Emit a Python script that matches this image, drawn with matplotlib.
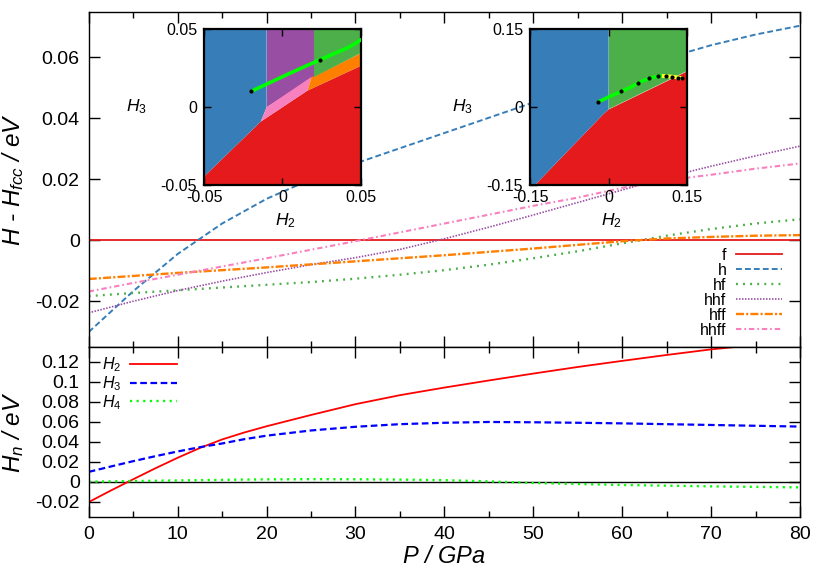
import matplotlib
matplotlib.use("Agg")
import matplotlib.pyplot as plt
import numpy as np
from matplotlib.ticker import MultipleLocator, FuncFormatter

plt.rcParams['font.family'] = ['Liberation Sans', 'DejaVu Sans']
plt.rcParams['mathtext.fontset'] = 'custom'
plt.rcParams['mathtext.it'] = 'Liberation Sans:italic'
plt.rcParams['mathtext.rm'] = 'Liberation Sans'

# ── top panel: H - H_fcc (eV) vs pressure ────────────────────────────────────
P_TOP = [0, 5, 10, 15, 20, 25, 30, 35, 40, 45, 50, 55, 60, 65, 70, 75, 80]
H_F    = [0.0] * 17
H_H    = [-0.0301, -0.0167, -0.0045, 0.0055, 0.0136, 0.0200, 0.0252, 0.0302, 0.0352,
          0.0402, 0.0452, 0.0500, 0.0550, 0.0598, 0.0640, 0.0675, 0.0704]
H_HF   = [-0.0183, -0.0173, -0.0164, -0.0155, -0.0146, -0.0137, -0.0126, -0.0113, -0.0098,
          -0.0080, -0.0059, -0.0036, -0.0010, 0.0015, 0.0037, 0.0055, 0.0069]
H_HHF  = [-0.0238, -0.0200, -0.0165, -0.0134, -0.0106, -0.0080, -0.0057, -0.0030, 0.0005,
          0.0043, 0.0083, 0.0124, 0.0165, 0.0207, 0.0243, 0.0277, 0.0309]
H_HFF  = [-0.0127, -0.0117, -0.0107, -0.0098, -0.0089, -0.0079, -0.0069, -0.0059, -0.0049,
          -0.0038, -0.0027, -0.0015, -0.0003, 0.0006, 0.0011, 0.0015, 0.0017]
H_HHFF = [-0.0168, -0.0140, -0.0113, -0.0086, -0.0059, -0.0031, -0.0003, 0.0026, 0.0055,
          0.0084, 0.0113, 0.0140, 0.0172, 0.0197, 0.0215, 0.0235, 0.0252]

# ── bottom panel: H_n (eV) vs pressure ───────────────────────────────────────
P_BOT = [0, 2.5, 5, 7.5, 10, 12.5, 15, 17.5, 20, 25, 30, 35, 40, 45, 50, 55, 60, 65, 70, 75, 80]
H2 = [-0.0201, -0.0085, 0.0027, 0.0137, 0.0242, 0.0340, 0.0425, 0.0495, 0.0557, 0.0670, 0.0778,
      0.0868, 0.0944, 0.1015, 0.1084, 0.1150, 0.1211, 0.1270, 0.1326, 0.1370, 0.1405]
H3 = [0.0101, 0.0155, 0.0208, 0.0258, 0.0305, 0.0348, 0.0385, 0.0428, 0.0463, 0.0515, 0.0552,
      0.0578, 0.0592, 0.0600, 0.0597, 0.0592, 0.0586, 0.0578, 0.0570, 0.0562, 0.0554]
H4 = [0.0003, 0.0006, 0.0009, 0.0012, 0.0015, 0.0018, 0.0021, 0.0024, 0.0026, 0.0028, 0.0027,
      0.0024, 0.0018, 0.0006, -0.0010, -0.0020, -0.0030, -0.0037, -0.0044, -0.0049, -0.0054]

# ── inset phase maps (H2, H3 vertices) ───────────────────────────────────────
IN1_RED    = ([-0.05, -0.05, -0.0138, 0.016, 0.05, 0.05], [-0.05, -0.0446, -0.0093, 0.0106, 0.0265, -0.05])
IN1_BLUE   = ([-0.05, -0.05, -0.01, -0.01, -0.0138], [-0.0446, 0.05, 0.05, 0.0, -0.0093])
IN1_PURPLE = ([-0.01, -0.01, 0.02, 0.02], [0.0, 0.05, 0.05, 0.0196])
IN1_PINK   = ([-0.0138, -0.01, 0.0188, 0.016], [-0.0093, 0.0, 0.0196, 0.0106])
IN1_ORANGE = ([0.016, 0.0188, 0.02, 0.05, 0.05], [0.0106, 0.0196, 0.0196, 0.0346, 0.0265])
IN1_GREEN  = ([0.02, 0.02, 0.05, 0.05], [0.0196, 0.05, 0.05, 0.0346])

IN2_RED   = ([-0.15, -0.1405, -0.0102, 0.0, 0.15, 0.15], [-0.15, -0.15, -0.0135, -0.0045, 0.069, -0.15])
IN2_BLUE  = ([-0.15, -0.1405, -0.0102, 0.0, 0.0, -0.15], [-0.15, -0.15, -0.0135, -0.0045, 0.15, 0.15])
IN2_GREEN = ([0.0, 0.0, 0.15, 0.15], [-0.0045, 0.15, 0.15, 0.069])

C_RED, C_BLUE, C_GREEN = "#e41a1c", "#377eb8", "#4daf4a"
C_PURPLE, C_ORANGE, C_PINK = "#984ea3", "#ff7f00", "#f781bf"


def fmt(v, pos):
    return "%g" % (round(v, 6) + 0.0)


def style_main(ax):
    ax.set_xlim(0, 80)
    ax.xaxis.set_major_locator(MultipleLocator(10))
    ax.xaxis.set_minor_locator(MultipleLocator(5))
    ax.yaxis.set_major_locator(MultipleLocator(0.02))
    ax.yaxis.set_major_formatter(FuncFormatter(fmt))
    ax.tick_params(which="both", direction="in", top=True, right=True, labelsize=14, pad=6.5)
    ax.tick_params(which="major", length=8, width=1)
    ax.tick_params(which="minor", length=4, width=1)
    for s in ax.spines.values():
        s.set_linewidth(1.0)


fig = plt.figure(figsize=(8.3, 5.81), dpi=100)
ax1 = fig.add_axes([0.1069, 0.4028, 0.857, 0.5771])
ax2 = fig.add_axes([0.1069, 0.1102, 0.857, 0.2926])

# top panel curves
ax1.plot(P_TOP, H_F, color=C_RED, lw=1.3, label="f")
ax1.plot(P_TOP, H_H, color=C_BLUE, lw=1.4, dashes=(3.0, 1.6), label="h")
ax1.plot(P_TOP, H_HF, color=C_GREEN, lw=1.7, dashes=(0.8, 2.2), label="hf")
ax1.plot(P_TOP, H_HHF, color=C_PURPLE, lw=1.2, dashes=(0.9, 0.9), label="hhf")
ax1.plot(P_TOP, H_HFF, color=C_ORANGE, lw=1.7, dashes=(3.4, 0.9, 0.9, 0.9), label="hff")
ax1.plot(P_TOP, H_HHFF, color=C_PINK, lw=1.5, dashes=(2.6, 1.4, 0.8, 1.4), label="hhff")
style_main(ax1)
ax1.set_ylim(-0.035, 0.075)
ax1.tick_params(labelbottom=False)
ax1.set_ylabel(r"$H$ - $H_{fcc}$ / $eV$", fontsize=17.5, fontstyle="italic")
ax1.yaxis.set_label_coords(-0.088, 0.5)
ax1.legend(loc="upper right", bbox_to_anchor=(0.975, 0.296), frameon=False, markerfirst=False,
           fontsize=11.5, handlelength=2.9, handletextpad=0.6, labelspacing=0.0,
           borderpad=0, borderaxespad=0)

# bottom panel curves
ax2.axhline(0, color="black", lw=1.0)
ax2.plot(P_BOT, H2, color="#ff0000", lw=1.3, label=r"$H_2$")
ax2.plot(P_BOT, H3, color="#0000ff", lw=1.6, dashes=(3.0, 1.6), label=r"$H_3$")
ax2.plot(P_BOT, H4, color="#00ff00", lw=1.7, dashes=(0.9, 1.9), label=r"$H_4$")
style_main(ax2)
ax2.set_ylim(-0.035, 0.135)
ax2.set_ylabel(r"$H_n$ / $eV$", fontsize=17.5, fontstyle="italic")
ax2.yaxis.set_label_coords(-0.088, 0.5)
ax2.set_xlabel(r"$P$ / $GPa$", fontsize=17, fontstyle="italic")
ax2.xaxis.set_label_coords(0.5, -0.165)
ax2.legend(loc="upper left", bbox_to_anchor=(0.018, 0.95), frameon=False, markerfirst=False,
           fontsize=11.5, handlelength=2.9, handletextpad=0.6, labelspacing=0.0,
           borderpad=0, borderaxespad=0)

# insets
p = np.array(P_BOT)
h2 = np.array(H2)
h3 = np.array(H3)


def draw_inset(rect, lim, regions, ticks, ticklabels):
    ax = fig.add_axes(rect)
    for (xs, ys), c in regions:
        ax.fill(xs, ys, color=c, lw=0)
    ax.plot(h2, h3, color="#00ff00", lw=2.6, solid_capstyle="butt", zorder=3)
    late = p >= 45
    ax.plot(h2[late], h3[late], color="#ffff33", lw=2.8, solid_capstyle="butt", zorder=4)
    dots = (p % 10) == 0
    ax.plot(h2[dots], h3[dots], ls="none", marker="o", ms=2.0, color="black", zorder=5)
    ax.set_xlim(-lim, lim)
    ax.set_ylim(-lim, lim)
    ax.set_xticks(ticks)
    ax.set_yticks(ticks)
    ax.set_xticklabels(ticklabels)
    ax.set_yticklabels(ticklabels)
    ax.tick_params(direction="in", top=True, right=True, length=5, width=1, labelsize=11.5)
    ax.tick_params(axis="x", pad=3.5)
    ax.tick_params(axis="y", pad=5)
    for s in ax.spines.values():
        s.set_linewidth(1.6)
    ax.text(-0.43, 0.5, r"$H_3$", transform=ax.transAxes, fontsize=12.5, ha="center", va="center")
    ax.text(0.52, -0.23, r"$H_2$", transform=ax.transAxes, fontsize=12.5, ha="center", va="center")
    return ax


draw_inset([0.2458, 0.6816, 0.1888, 0.268], 0.05,
           [(IN1_RED, C_RED), (IN1_BLUE, C_BLUE), (IN1_PURPLE, C_PURPLE),
            (IN1_PINK, C_PINK), (IN1_ORANGE, C_ORANGE), (IN1_GREEN, C_GREEN)],
           [-0.05, 0, 0.05], ["-0.05", "0", "0.05"])
draw_inset([0.6386, 0.6816, 0.1895, 0.268], 0.15,
           [(IN2_RED, C_RED), (IN2_BLUE, C_BLUE), (IN2_GREEN, C_GREEN)],
           [-0.15, 0, 0.15], ["-0.15", "0", "0.15"])

fig.savefig("out.png", dpi=100)
